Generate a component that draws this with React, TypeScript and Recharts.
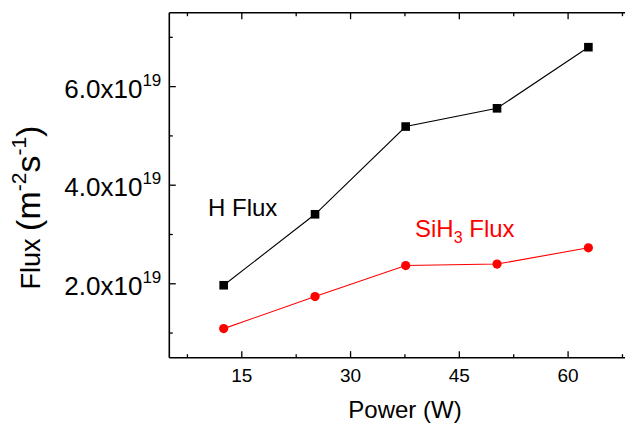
import React from "react";
import { LineChart, Line, XAxis, YAxis } from "recharts";

const powerW = [12.5, 25.1, 37.6, 50.2, 62.8];
const hFlux = [1.97e19, 3.41e19, 5.19e19, 5.56e19, 6.8e19];
const sih3Flux = [1.09e19, 1.74e19, 2.37e19, 2.4e19, 2.73e19];
const xTicks = [7.5, 15, 22.5, 30, 37.5, 45, 52.5, 60, 67.5];
const yTicks = [1e19, 2e19, 3e19, 4e19, 5e19, 6e19, 7e19];

const data = powerW.map((p, i) => ({ power: p, h: hFlux[i], si: sih3Flux[i] }));

const FONT = "'Liberation Sans', Arial, sans-serif";

const BottomTick = (props: any) => {
  const { x, y, payload } = props;
  const major = payload.value % 15 === 0;
  return (
    <g>
      <line x1={x} y1={y} x2={x} y2={y - (major ? 6.5 : 3.5)} stroke="#000" strokeWidth={1.3} />
      {major && (
        <text x={x} y={y + 24} textAnchor="middle" fontSize={19} fontFamily={FONT} fill="#000">
          {payload.value}
        </text>
      )}
    </g>
  );
};

const TopTick = (props: any) => {
  const { x, y, payload } = props;
  const major = payload.value % 15 === 0;
  return <line x1={x} y1={y} x2={x} y2={y + (major ? 6.5 : 3.5)} stroke="#000" strokeWidth={1.3} />;
};

const LeftTick = (props: any) => {
  const { x, y, payload } = props;
  const v = Math.round(payload.value / 1e18) / 10;
  const major = Math.round(v) % 2 === 0;
  return (
    <g>
      <line x1={x} y1={y} x2={x + (major ? 6.5 : 3.5)} y2={y} stroke="#000" strokeWidth={1.3} />
      {major && (
        <text x={x - 8} y={y + 11} textAnchor="end" fontSize={26} fontFamily={FONT} fill="#000">
          {v.toFixed(1) + "x10"}
          <tspan fontSize={17} dy={-12}>19</tspan>
        </text>
      )}
    </g>
  );
};

const Square = (props: any) => {
  const { cx, cy } = props;
  if (cx == null || cy == null) return null;
  return <rect x={cx - 4.3} y={cy - 4.3} width={8.6} height={8.6} fill="#000" />;
};

const Circle = (props: any) => {
  const { cx, cy } = props;
  if (cx == null || cy == null) return null;
  return <circle cx={cx} cy={cy} r={4.6} fill="#ff0000" />;
};

export default function App() {
  return (
    <div style={{ position: "relative", width: 625, height: 418, overflow: "hidden" }}>
      <LineChart
        width={650}
        height={418}
        data={data}
        margin={{ top: 3.7, right: 17.4, bottom: 38.3, left: 101.3 }}
      >
        <XAxis
          dataKey="power"
          type="number"
          domain={[5, 70]}
          ticks={xTicks}
          allowDataOverflow
          height={30}
          tickSize={0}
          tickMargin={0}
          tickLine={false}
          axisLine={{ stroke: "#000", strokeWidth: 1.6 }}
          tick={<BottomTick />}
          interval={0}
        />
        <XAxis
          xAxisId="top"
          orientation="top"
          dataKey="power"
          type="number"
          domain={[5, 70]}
          ticks={xTicks}
          allowDataOverflow
          height={1}
          tickSize={0}
          tickMargin={0}
          tickLine={false}
          axisLine={{ stroke: "#000", strokeWidth: 1.6 }}
          tick={<TopTick />}
          interval={0}
        />
        <YAxis
          type="number"
          domain={[0.5e19, 7.5e19]}
          ticks={yTicks}
          allowDataOverflow
          width={60}
          tickSize={0}
          tickMargin={0}
          tickLine={false}
          axisLine={{ stroke: "#000", strokeWidth: 1.6 }}
          tick={<LeftTick />}
          interval={0}
        />
        <Line
          dataKey="h"
          type="linear"
          stroke="#000"
          strokeWidth={1.1}
          dot={<Square />}
          activeDot={false}
          isAnimationActive={false}
        />
        <Line
          dataKey="si"
          type="linear"
          stroke="#ff0000"
          strokeWidth={1.1}
          dot={<Circle />}
          activeDot={false}
          isAnimationActive={false}
        />
      </LineChart>
      <svg
        width={633}
        height={426}
        style={{ position: "absolute", left: -8, top: -8, pointerEvents: "none" }}
      >
        <text x={405} y={418} textAnchor="middle" fontSize={24} fontFamily={FONT} fill="#000">
          Power (W)
        </text>
        <text
          x={40}
          y={207.5}
          transform="rotate(-90 40 207.5)"
          textAnchor="middle"
          fontFamily={FONT}
          fill="#000"
        >
          <tspan fontSize={27}>Flux </tspan>
          <tspan fontSize={34}>(m</tspan>
          <tspan fontSize={21} dy={-14}>-2</tspan>
          <tspan fontSize={34} dy={14}>s</tspan>
          <tspan fontSize={21} dy={-14}>-1</tspan>
          <tspan fontSize={34} dy={14}>)</tspan>
        </text>
        <text x={208} y={216} fontSize={24} fontFamily={FONT} fill="#000">
          H Flux
        </text>
        <text x={415} y={237} fontSize={24} fontFamily={FONT} fill="#ff0000">
          SiH
          <tspan fontSize={16} dy={6}>3</tspan>
          <tspan dy={-6}> Flux</tspan>
        </text>
      </svg>
    </div>
  );
}
